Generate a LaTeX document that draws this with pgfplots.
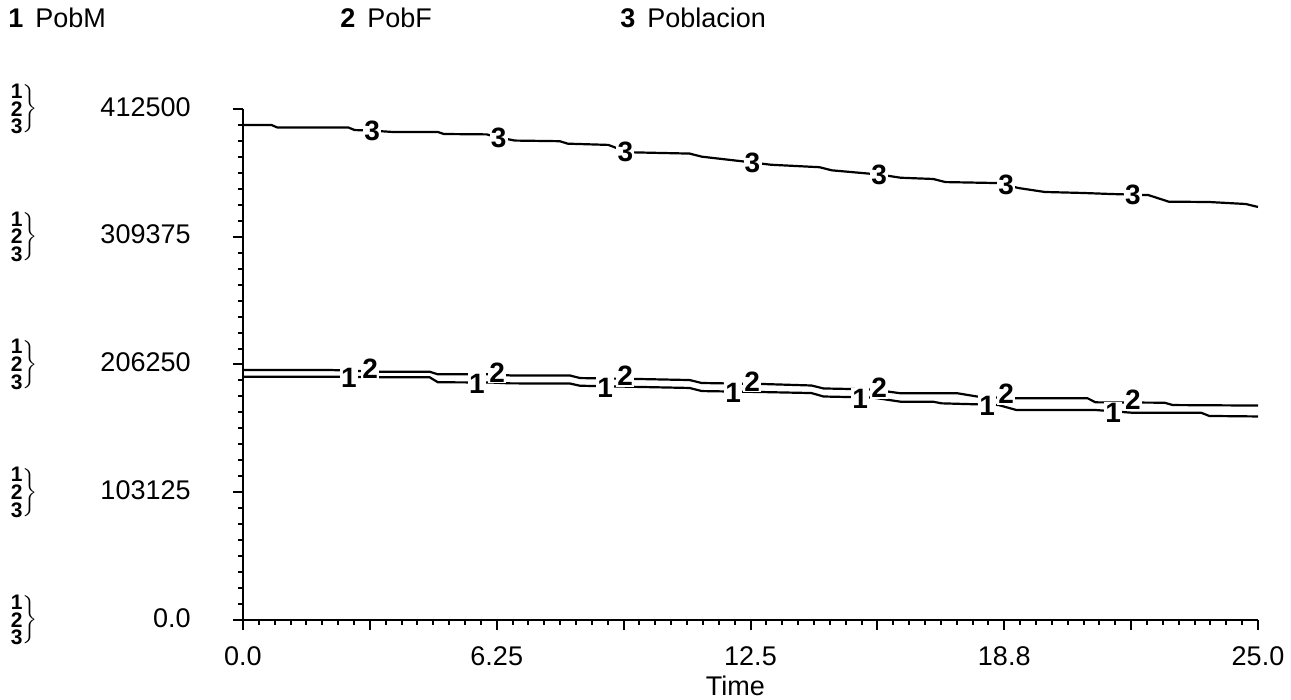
\documentclass[border=0pt]{standalone}
\usepackage{fontspec}
\setmainfont{Liberation Sans}
\usepackage{pgfplots}
\pgfplotsset{compat=1.18}
\newcommand{\sd}[1]{\hbox{\fontsize{10.5}{10.5}\selectfont\bfseries #1}}
\newcommand{\stk}{$\left.\vcenter{\offinterlineskip\sd{1}\kern1.5pt\sd{2}\kern1.5pt\sd{3}}\right\}$}
\newcommand{\yl}[1]{\makebox[91pt][l]{\stk\hfill#1}}
\pgfplotsset{lbl/.style={draw=none, mark=none, nodes near coords={\textbf{#1}},
  every node near coord/.style={anchor=center, fill=white, inner sep=0.6pt, font=\fontsize{14}{14}\selectfont}}}
\begin{document}
\begin{tikzpicture}
\begin{axis}[
  name=ax, at={(0,0)}, anchor=south west,
  width=507.5pt, height=255.5pt, scale only axis,
  xmin=0, xmax=25, ymin=0, ymax=412500,
  axis lines=left, axis line style={line width=1.2pt, -},
  xtick={0,3.125,6.25,9.375,12.5,15.625,18.75,21.875,25},
  xticklabels={0.0,,6.25,,12.5,,18.8,,25.0},
  ytick={0,103125,206250,309375,412500},
  yticklabels={\yl{0.0},\yl{103125},\yl{206250},\yl{309375},\yl{412500}},
  scaled y ticks=false,
  minor x tick num=7, minor y tick num=7,
  tick align=outside,
  major tick length=5pt, minor tick length=2.5pt,
  tick style={black, line width=1pt},
  ticklabel style={font=\fontsize{13.5}{16}\selectfont},
  yticklabel style={anchor=east, inner sep=0pt, xshift=-21pt},
  xticklabel style={anchor=north, inner sep=0pt, yshift=-8pt},
  clip=false,
]
\addplot[black, line width=1.1pt] coordinates {
(0,399600)(0.7,399600)(0.85,397500)(2.6,397500)(2.75,395500)(3.2,395000)(3.7,393900)(4.8,393900)(4.95,392300)(6.0,392000)(6.3,389500)(6.7,387000)(7.8,386500)(8.0,384500)(9.0,383500)(9.2,381000)(9.6,377500)(11.0,376500)(11.3,374000)(12.5,369500)(13.0,367500)(14.2,365500)(14.5,363000)(15.7,359500)(16.2,357000)(17.0,356000)(17.3,353500)(18.6,352700)(19.1,348700)(19.75,345500)(20.7,344700)(21.35,343900)(22.3,343000)(22.8,337700)(23.8,337400)(24.7,335800)(25,333400)};
\addplot[black, line width=1.1pt] coordinates {
(0,201800)(2.15,201800)(3.4,200400)(4.6,200400)(4.8,198300)(6.1,198300)(6.6,197400)(8.05,197400)(8.3,195300)(9.8,194500)(11.0,193700)(11.3,191300)(12.8,190500)(14.0,189300)(14.3,186900)(15.5,186100)(16.2,183000)(17.6,183000)(18.1,180300)(19.05,179000)(20.8,179000)(21.0,175700)(22.7,175400)(22.9,173500)(25,173100)};
\addplot[black, line width=1.1pt] coordinates {
(0,196400)(2.15,196400)(3.4,195900)(4.6,195900)(4.8,191900)(6.1,191700)(6.6,191000)(8.05,190900)(8.3,189100)(9.8,188100)(11.0,187300)(11.3,184800)(12.8,184000)(14.0,183200)(14.3,180400)(15.5,179600)(16.2,176200)(17.0,176200)(17.2,174900)(18.6,173600)(19.05,169500)(21.0,169500)(21.9,167300)(23.6,167300)(23.8,164700)(25,164300)};
\addplot[lbl=3] coordinates {
(3.18,395000)(6.3,389500)(9.42,378000)(12.55,369300)(15.67,359500)(18.8,351000)(21.92,343300)};
\addplot[lbl=1] coordinates {
(2.61,195300)(5.76,190800)(8.92,187700)(12.07,183400)(15.2,178800)(18.33,172800)(21.43,167500)};
\addplot[lbl=2] coordinates {
(3.13,203000)(6.26,200000)(9.41,196800)(12.54,192700)(15.67,187500)(18.8,182300)(21.92,177600)};
\node[anchor=west, font=\fontsize{13.5}{16}\selectfont, inner sep=0pt] at (rel axis cs:-0.2315,1.178) {\textbf{1}\hspace{6pt}PobM};
\node[anchor=west, font=\fontsize{13.5}{16}\selectfont, inner sep=0pt] at (rel axis cs:0.0956,1.178) {\textbf{2}\hspace{6pt}PobF};
\node[anchor=west, font=\fontsize{13.5}{16}\selectfont, inner sep=0pt] at (rel axis cs:0.3714,1.178) {\textbf{3}\hspace{6pt}Poblacion};
\node[font=\fontsize{13.5}{16}\selectfont, inner sep=0pt] at (rel axis cs:0.485,0) [yshift=-33pt] {Time};
\end{axis}
\pgfresetboundingbox
\path[use as bounding box] (-121.5pt,-40pt) rectangle (524pt,310pt);
\end{tikzpicture}
\end{document}
